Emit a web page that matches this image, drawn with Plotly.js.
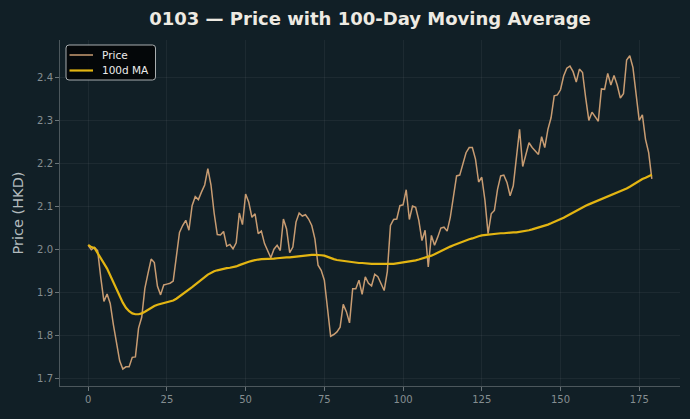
<!DOCTYPE html>
<html><head><meta charset="utf-8">
<script src="https://cdn.plot.ly/plotly-3.0.1.min.js"></script>
<style>html,body{margin:0;padding:0;background:#111f26;}</style>
</head><body>
<div id="chart" style="width:690px;height:419px;"></div>
<script>
const price = [2.010,2.000,2.005,1.998,1.935,1.880,1.897,1.875,1.826,1.785,
1.742,1.723,1.728,1.728,1.750,1.751,1.818,1.843,1.910,1.945,
1.978,1.970,1.915,1.895,1.918,1.920,1.922,1.927,1.985,2.040,
2.056,2.068,2.045,2.102,2.123,2.116,2.134,2.150,2.188,2.150,
2.085,2.035,2.034,2.042,2.008,2.012,2.002,2.016,2.085,2.058,
2.129,2.110,2.075,2.083,2.037,2.043,2.014,1.996,1.981,2.001,
2.010,1.998,2.071,2.048,1.993,2.006,2.064,2.085,2.078,2.081,
2.071,2.056,2.025,1.964,1.952,1.929,1.860,1.799,1.803,1.809,
1.820,1.873,1.856,1.830,1.909,1.909,1.929,1.896,1.937,1.922,
1.916,1.943,1.937,1.919,1.905,1.949,2.056,2.070,2.071,2.102,
2.104,2.139,2.070,2.101,2.098,2.068,2.021,2.045,1.960,2.033,
2.010,2.029,2.050,2.052,2.043,2.075,2.129,2.171,2.173,2.202,
2.225,2.237,2.237,2.210,2.157,2.168,2.115,2.037,2.083,2.091,
2.140,2.171,2.173,2.156,2.125,2.148,2.217,2.279,2.193,2.221,
2.248,2.237,2.229,2.221,2.262,2.237,2.279,2.306,2.357,2.359,
2.371,2.403,2.421,2.426,2.413,2.389,2.419,2.411,2.352,2.300,
2.319,2.308,2.298,2.373,2.372,2.409,2.382,2.404,2.382,2.352,
2.362,2.440,2.450,2.423,2.363,2.300,2.313,2.256,2.225,2.164];

const ma100 = [2.011,2.006,2.004,1.993,1.980,1.968,1.956,1.940,1.925,1.907,
1.891,1.877,1.865,1.857,1.852,1.850,1.850,1.852,1.856,1.861,
1.866,1.869,1.872,1.874,1.876,1.878,1.880,1.882,1.886,1.891,
1.897,1.902,1.907,1.913,1.919,1.924,1.930,1.936,1.942,1.947,
1.950,1.952,1.954,1.956,1.957,1.958,1.959,1.961,1.964,1.967,
1.970,1.972,1.974,1.976,1.977,1.978,1.978,1.979,1.979,1.979,
1.980,1.981,1.981,1.982,1.982,1.983,1.984,1.985,1.986,1.987,
1.988,1.988,1.988,1.988,1.987,1.986,1.983,1.980,1.978,1.976,
1.975,1.973,1.972,1.971,1.970,1.970,1.969,1.969,1.968,1.968,
1.967,1.967,1.967,1.966,1.966,1.966,1.966,1.967,1.968,1.969,
1.970,1.971,1.972,1.973,1.975,1.977,1.979,1.981,1.983,1.986,
1.989,1.993,1.996,2.000,2.003,2.007,2.010,2.013,2.016,2.018,
2.021,2.024,2.026,2.029,2.031,2.033,2.034,2.035,2.036,2.037,
2.037,2.038,2.038,2.039,2.039,2.040,2.040,2.041,2.042,2.043,
2.045,2.047,2.049,2.051,2.053,2.055,2.058,2.061,2.064,2.067,
2.070,2.074,2.078,2.082,2.087,2.091,2.095,2.099,2.102,2.105,
2.108,2.111,2.114,2.118,2.121,2.124,2.127,2.130,2.132,2.135,
2.138,2.142,2.146,2.151,2.155,2.159,2.164,2.167,2.171,2.174];

const days = price.map((_, i) => i);
const xTicks = [0,25,50,75,100,125,150,175];
const yTicks = [1.7,1.8,1.9,2.0,2.1,2.2,2.3,2.4];
const seriesNames = ['Price', '100d MA'];
const titleText = '0103 \u2014 Price with 100-Day Moving Average';

const priceColor = '#c89c72';
const maColor = '#e3b512';

const traces = [
  {x: days, y: price, type: 'scatter', mode: 'lines', name: seriesNames[0],
   line: {color: priceColor, width: 1.5}},
  {x: days, y: ma100, type: 'scatter', mode: 'lines', name: seriesNames[1],
   line: {color: maColor, width: 2.2}}
];

const axisCommon = {
  showgrid: true, gridcolor: 'rgba(255,255,255,0.05)', gridwidth: 1,
  zeroline: false, showline: true, linecolor: '#4c575c', linewidth: 1,
  ticks: 'outside', ticklen: 4, tickcolor: '#6a7478', tickwidth: 1,
  tickfont: {family: 'DejaVu Sans', size: 10, color: '#858e91'}
};

// Legend box (paper coordinates of plot area: 620 x 346 px)
const W = 620, H = 346;
const px = v => v / W, py = v => v / H;
const bx0 = px(6), bx1 = px(95.5), by1 = 1 - py(5), by0 = 1 - py(40);
const rx = px(3), ry = py(3);
const boxPath = `M ${bx0 + rx} ${by1} L ${bx1 - rx} ${by1} Q ${bx1} ${by1} ${bx1} ${by1 - ry} ` +
  `L ${bx1} ${by0 + ry} Q ${bx1} ${by0} ${bx1 - rx} ${by0} L ${bx0 + rx} ${by0} ` +
  `Q ${bx0} ${by0} ${bx0} ${by0 + ry} L ${bx0} ${by1 - ry} Q ${bx0} ${by1} ${bx0 + rx} ${by1} Z`;
const rowY = [1 - py(15), 1 - py(30.5)];

const shapes = [
  {type: 'path', xref: 'paper', yref: 'paper', path: boxPath, layer: 'above',
   fillcolor: 'rgba(3,5,6,0.92)', line: {color: '#a8adaf', width: 1}},
  {type: 'line', xref: 'paper', yref: 'paper', x0: px(9.5), x1: px(33), y0: rowY[0], y1: rowY[0],
   layer: 'above', line: {color: priceColor, width: 1.5}},
  {type: 'line', xref: 'paper', yref: 'paper', x0: px(9.5), x1: px(33), y0: rowY[1], y1: rowY[1],
   layer: 'above', line: {color: maColor, width: 2.2}}
];
const annotations = seriesNames.map((n, k) => ({
  xref: 'paper', yref: 'paper', x: px(40), y: rowY[k], xanchor: 'left', yanchor: 'middle',
  text: n, showarrow: false, font: {family: 'DejaVu Sans', size: 10.5, color: '#ececec'}
}));

const layout = {
  width: 690, height: 419,
  paper_bgcolor: '#111f26', plot_bgcolor: '#111f26',
  margin: {l: 60, r: 10, t: 40, b: 33},
  title: {text: titleText, x: 0.5, xanchor: 'center', xref: 'paper',
          y: 1 - 18.5 / 419, yanchor: 'middle', yref: 'container',
          font: {family: 'DejaVu Sans', size: 18, color: '#eeeae2', weight: 'bold'}},
  showlegend: false,
  shapes: shapes,
  annotations: annotations,
  xaxis: Object.assign({}, axisCommon, {
    range: [-8.95, 187.95], tickvals: xTicks, ticktext: xTicks.map(String)
  }),
  yaxis: Object.assign({}, axisCommon, {
    range: [1.6835, 2.4865], tickvals: yTicks, ticktext: yTicks.map(v => v.toFixed(1)),
    title: {text: 'Price (HKD)', standoff: 10,
            font: {family: 'DejaVu Sans', size: 14.5, color: '#b3bbbe'}}
  })
};

Plotly.newPlot('chart', traces, layout, {displayModeBar: false, staticPlot: true});
</script>
</body></html>
